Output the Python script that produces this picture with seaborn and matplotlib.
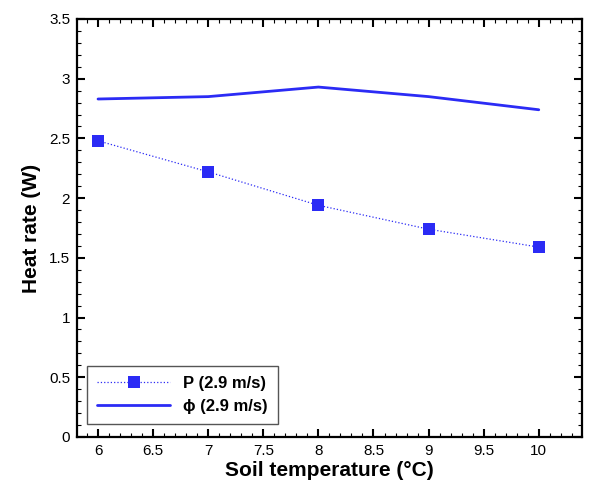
import matplotlib
matplotlib.use("Agg")
import matplotlib.pyplot as plt
from matplotlib.ticker import MultipleLocator
import seaborn as sns
import pandas as pd

temps = [6, 7, 8, 9, 10]
p_vals = [2.48, 2.22, 1.94, 1.74, 1.59]
phi_vals = [2.83, 2.85, 2.93, 2.85, 2.74]
labels = ["P (2.9 m/s)", "ϕ (2.9 m/s)"]

sns.set_theme(style="ticks")
plt.rcParams['font.family'] = ['Liberation Sans', 'DejaVu Sans']
plt.rcParams['text.color'] = 'black'
plt.rcParams['axes.labelcolor'] = 'black'
plt.rcParams['xtick.color'] = 'black'
plt.rcParams['ytick.color'] = 'black'

df_p = pd.DataFrame({"t": temps, "v": p_vals})
df_phi = pd.DataFrame({"t": temps, "v": phi_vals})

fig = plt.figure(figsize=(5.93, 4.82), dpi=100)
ax = fig.add_axes([0.130, 0.0934, 0.851, 0.8672])

blue = "#2b2bf5"
sns.lineplot(data=df_p, x="t", y="v", ax=ax, color=blue, linestyle=":", linewidth=0.9,
             marker="s", markersize=8, markeredgewidth=0, label=labels[0])
sns.lineplot(data=df_phi, x="t", y="v", ax=ax, color=blue, linewidth=2.0, label=labels[1])

ax.set_xlim(5.81, 10.39)
ax.set_ylim(0, 3.5)
ax.xaxis.set_major_locator(MultipleLocator(0.5))
ax.xaxis.set_minor_locator(MultipleLocator(0.1))
ax.yaxis.set_major_locator(MultipleLocator(0.5))
ax.yaxis.set_minor_locator(MultipleLocator(0.1))
ax.set_xticks([6, 6.5, 7, 7.5, 8, 8.5, 9, 9.5, 10])
ax.set_xticklabels(["6", "6.5", "7", "7.5", "8", "8.5", "9", "9.5", "10"])
ax.set_yticks([0, 0.5, 1, 1.5, 2, 2.5, 3, 3.5])
ax.set_yticklabels(["0", "0.5", "1", "1.5", "2", "2.5", "3", "3.5"])

ax.tick_params(which="both", direction="in", top=True, right=True, color="black")
ax.tick_params(which="major", length=6, width=1.5, labelsize=11, pad=5)
ax.tick_params(which="minor", length=3, width=0.8)
for s in ax.spines.values():
    s.set_linewidth(1.6)
    s.set_color("black")

ax.set_xlabel("Soil temperature (°C)", fontsize=15, fontweight="bold", labelpad=2)
ax.set_ylabel("Heat rate (W)", fontsize=15, fontweight="bold", labelpad=6)

leg = ax.legend(loc="lower left", bbox_to_anchor=(0.01, 0.02), fancybox=False,
                frameon=True, edgecolor="#555555", framealpha=1, borderpad=0.6,
                handlelength=4.4, handletextpad=0.75, labelspacing=0.45,
                borderaxespad=0.3,
                prop={"weight": "bold", "size": 12})
leg.get_frame().set_linewidth(1.0)

fig.savefig("out.png", dpi=100)
